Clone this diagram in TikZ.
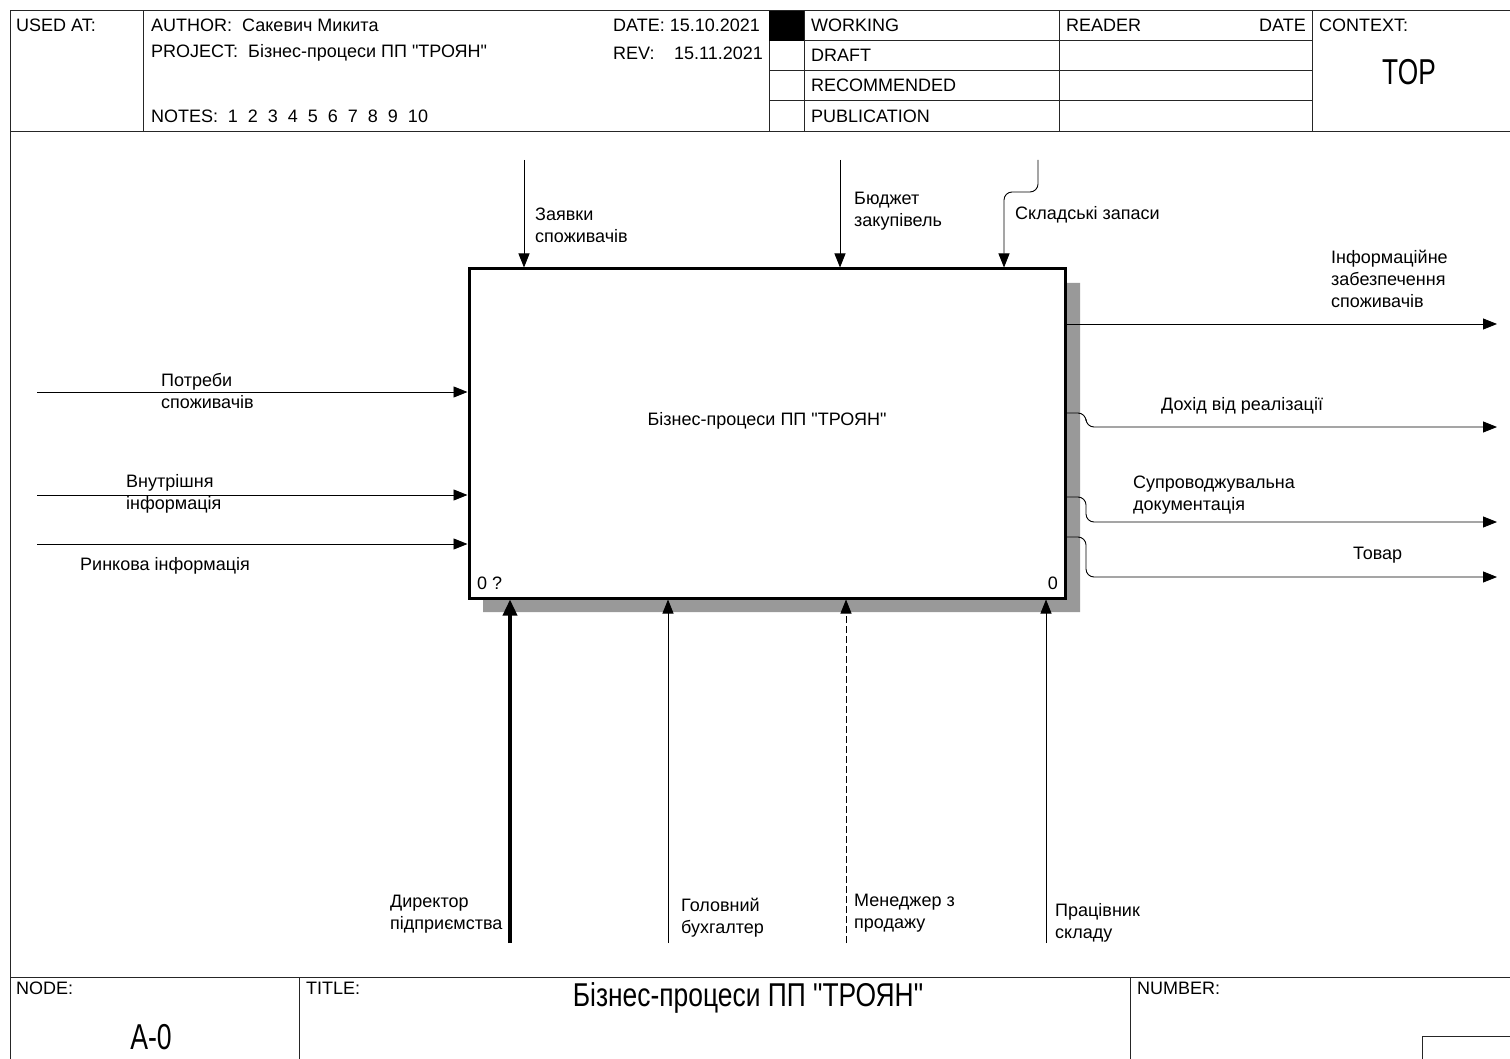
\documentclass[tikz,border=0pt]{standalone}
\usepackage{fontspec}
\setmainfont{Liberation Sans}[Ligatures=TeXOff]
\usepackage{tikz}
\usetikzlibrary{arrows.meta,positioning,calc}

\begin{document}
\begin{tikzpicture}[
	x=1pt, y=-1pt,
	>={Triangle[length=14pt,width=11pt]},
	font=\fontsize{18}{22}\selectfont,
	frame/.style={line width=1pt, draw=black!85},
	txt/.style={anchor=west, inner sep=0pt, align=left},
	big/.style={inner sep=0pt, font=\fontsize{36}{40}\selectfont},
	fn/.style={
		draw, line width=3pt, minimum width=596pt, minimum height=329pt,
		inner sep=0pt
	},
	arc/.style={->, line width=0.9pt, rounded corners=8pt},
	shade/.style={fill=black!40}
	]
	\useasboundingbox (0,0) rectangle (1510,1059);

	% frame of the sheet
	\draw[frame] (10,11) -- (1510,11);
	\draw[frame] (10,132) -- (1510,132);
	\draw[frame] (10,11) -- (10,1059);
	\foreach \xx in {143,769,804,1059,1312}
	\draw[frame] (\xx,11) -- (\xx,132);
	\foreach \yy in {41,71,101}
	\draw[frame] (769,\yy) -- (1312,\yy);
	\fill (769,11) rectangle (804,41);
	\draw[frame] (10,977) -- (1510,977);
	\draw[frame] (299,977) -- (299,1059);
	\draw[frame] (1130,977) -- (1130,1059);
	\draw[frame] (1422,1059) -- (1422,1036) -- (1510,1036);

	% header texts
	\node[txt] (usedat) at (16,25) {USED AT:};
	\node[txt] (author) at (151,25) {AUTHOR:\ \ Сакевич Микита};
	\node[txt] (project) at (151,53) {PROJECT:\ \ Бізнес-процеси ПП "ТРОЯН"};
	\node[txt] (notes) at (151,116) {NOTES:};
	\foreach \i/\xx in {1/233,2/253,3/273,4/293,5/313,6/333,7/353,8/373,9/393,10/418}
	\node[inner sep=0pt] (note\i) at (\xx,116) {\i};
	\node[txt] (date) at (613,25) {DATE: 15.10.2021};
	\node[txt] (rev) at (613,53) {REV:};
	\node[txt] (revdate) at (674,53) {15.11.2021};
	\node[txt] (working) at (811,25) {WORKING};
	\node[txt] (draft) at (811,55) {DRAFT};
	\node[txt] (recom) at (811,85) {RECOMMENDED};
	\node[txt] (publ) at (811,116) {PUBLICATION};
	\node[txt] (reader) at (1066,25) {READER};
	\node[txt,anchor=east] (rdate) at (1306,25) {DATE};
	\node[txt] (context) at (1319,25) {CONTEXT:};
	\node[big] (top) at (1409,72) {\scalebox{0.73}[1]{TOP}};

	% footer texts
	\node[txt] (nodelbl) at (16,988) {NODE:};
	\node[big] (nodenum) at (151,1037) {\scalebox{0.74}[1]{A-0}};
	\node[txt] (titlelbl) at (306,988) {TITLE:};
	\node[inner sep=0pt, font=\fontsize{33}{36}\selectfont] (title) at (748,998)
	{\scalebox{0.8}[1]{Бізнес-процеси ПП "ТРОЯН"}};
	\node[txt] (numberlbl) at (1137,988) {NUMBER:};

	% function box with its shadow
	\fill[shade] (1065,283) -- (1080,283) -- (1080,612) -- (483,612)
	-- (483,598) -- (1065,598) -- cycle;
	\node[fn, fill=white] (proc) at (767,433.5) {};
	\node[inner sep=0pt] (ptext) at ([yshift=13pt]proc.center) {Бізнес-процеси ПП "ТРОЯН"};
	\node[txt] (pnum) at (477,583) {0 ?};
	\node[txt,anchor=east] (pcost) at (1058,583) {0};

	% free ends of the arrows
	\coordinate (in1) at (37,392);
	\coordinate (in2) at (37,495);
	\coordinate (in3) at (37,544);
	\coordinate (ctl1) at (524,160);
	\coordinate (ctl2) at (840,160);
	\coordinate (ctl3) at (1038,160);
	\coordinate (out1) at (1497,324);
	\coordinate (out2) at (1497,427);
	\coordinate (out3) at (1497,522);
	\coordinate (out4) at (1497,577);
	\coordinate (mech1) at (510,943);
	\coordinate (mech2) at (668,943);
	\coordinate (mech3) at (846,943);
	\coordinate (mech4) at (1046,943);

	% inputs
	\foreach \c in {in1,in2,in3}
	\draw[arc] (\c) -- (\c -| proc.west);
	\node[txt] (lin1) at (161,391) {Потреби\\споживачів};
	\node[txt] (lin2) at (126,494) {Внутрішня\\інформація};
	\node[txt] (lin3) at (80,566) {Ринкова інформація};

	% controls
	\draw[arc] (ctl1) -- (ctl1 |- proc.north);
	\draw[arc] (ctl2) -- (ctl2 |- proc.north);
	\draw[arc] (ctl3) -- (1038,192) -- (1004,192) -- (1004,269 |- proc.north);
	\node[txt] (lctl1) at (535,225) {Заявки\\споживачів};
	\node[txt] (lctl2) at (854,211) {Бюджет\\закупівель};
	\node[txt] (lctl3) at (1015,215) {Складські запаси};

	% outputs
	\draw[arc] (out1 -| proc.east) -- (out1);
	\draw[arc] (proc.east |- 0,413) -- (1086,413) -- (1086,427) -- (out2);
	\draw[arc] (proc.east |- 0,497) -- (1086,497) -- (1086,522) -- (out3);
	\draw[arc] (proc.east |- 0,537) -- (1086,537) -- (1086,577) -- (out4);
	\node[txt] (lout1) at (1331,279) {Інформаційне\\забезпечення\\споживачів};
	\node[txt] (lout2) at (1161,406) {Дохід від реалізації};
	\node[txt] (lout3) at (1133,495) {Супроводжувальна\\документація};
	\node[txt] (lout4) at (1353,555) {Товар};

	% mechanisms
	\draw[->, line width=3.5pt, >={Triangle[length=16pt,width=14pt]}]
	(mech1) -- (mech1 |- proc.south);
	\draw[arc] (mech2) -- (mech2 |- proc.south);
	\draw[arc, dash pattern=on 7pt off 3pt] (mech3) -- (mech3 |- proc.south);
	\draw[arc] (mech4) -- (mech4 |- proc.south);
	\node[txt] (lmech1) at (390,914) {Директор\\підприємства};
	\node[txt] (lmech2) at (681,918) {Головний\\бухгалтер};
	\node[txt] (lmech3) at (854,913) {Менеджер з\\продажу};
	\node[txt] (lmech4) at (1055,923) {Працівник\\складу};
\end{tikzpicture}
\end{document}
